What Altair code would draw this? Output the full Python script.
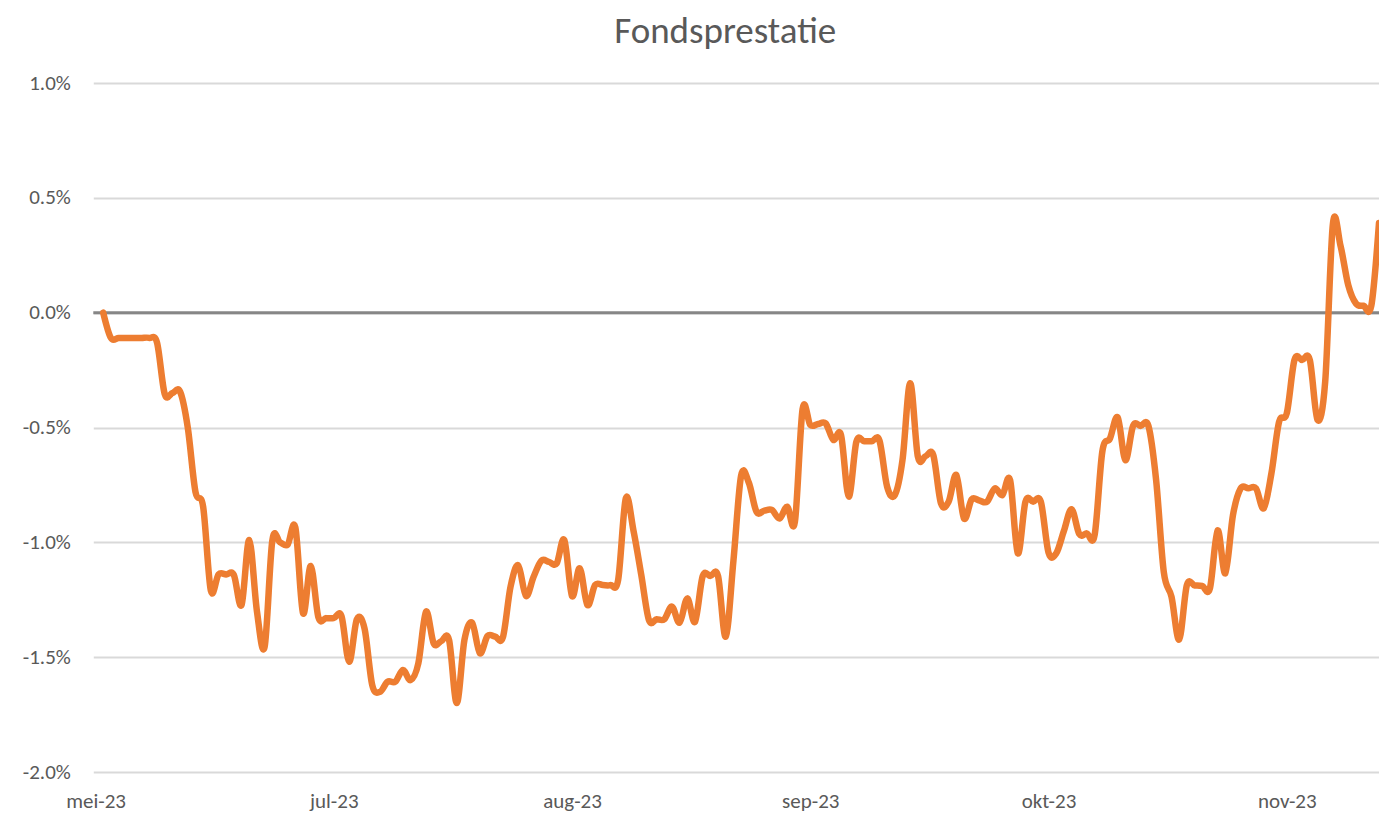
import json
import altair as alt
import pandas as pd

# ---- data (daily values, % return) ----
start_date = "2023-06-01"
rendement = [
    0.00, -0.11, -0.11, -0.11, -0.11, -0.11, -0.11, -0.13, -0.354, -0.35,
    -0.344, -0.50, -0.78, -0.845, -1.21, -1.14, -1.14, -1.142, -1.273, -0.99,
    -1.30, -1.455, -0.993, -1.00, -1.01, -0.935, -1.309, -1.103, -1.327, -1.33,
    -1.33, -1.321, -1.52, -1.335, -1.375, -1.621, -1.651, -1.607, -1.607, -1.556,
    -1.60, -1.527, -1.302, -1.44, -1.43, -1.425, -1.70, -1.425, -1.35, -1.483,
    -1.408, -1.41, -1.414, -1.193, -1.10, -1.233, -1.15, -1.08, -1.085, -1.092,
    -0.99, -1.234, -1.113, -1.273, -1.186, -1.186, -1.186, -1.164, -0.808, -0.95,
    -1.14, -1.338, -1.335, -1.335, -1.28, -1.35, -1.244, -1.346, -1.147, -1.147,
    -1.147, -1.411, -1.08, -0.71, -0.74, -0.867, -0.862, -0.859, -0.896, -0.845,
    -0.91, -0.42, -0.489, -0.485, -0.482, -0.554, -0.533, -0.801, -0.562, -0.56,
    -0.56, -0.557, -0.758, -0.794, -0.641, -0.307, -0.627, -0.625, -0.62, -0.83,
    -0.823, -0.707, -0.896, -0.813, -0.818, -0.823, -0.765, -0.794, -0.729, -1.048,
    -0.823, -0.823, -0.823, -1.045, -1.048, -0.95, -0.856, -0.964, -0.961, -0.968,
    -0.605, -0.547, -0.456, -0.642, -0.493, -0.493, -0.493, -0.729, -1.13, -1.237,
    -1.423, -1.186, -1.188, -1.19, -1.2, -0.948, -1.135, -0.881, -0.765, -0.765,
    -0.765, -0.852, -0.70, -0.475, -0.438, -0.206, -0.206, -0.206, -0.467, -0.30,
    0.386, 0.29, 0.12, 0.04, 0.03, 0.03, 0.39,
]
datums = pd.date_range(start_date, periods=len(rendement), freq="D").strftime("%Y-%m-%d").tolist()

x_labels = ["mei-23", "jul-23", "aug-23", "sep-23", "okt-23", "nov-23"]
x_label_dates = ["2023-05-31", "2023-07-01", "2023-08-01", "2023-09-01", "2023-10-02", "2023-11-02"]
x_domain_dates = ["2023-05-30T17:00:00", "2023-11-14T00:00:00"]
y_ticks = [-2.0, -1.5, -1.0, -0.5, 0.0, 0.5, 1.0]
y_domain = [-2.0, 1.0]
zero_line = [0.0]


def ms(s):
    return int(pd.Timestamp(s, tz="UTC").value // 10**6)


tick_ms = [ms(d) for d in x_label_dates]
domain_ms = [ms(d) for d in x_domain_dates]

df = pd.DataFrame({"datum": datums, "rendement": rendement})
df_zero = pd.DataFrame({"rendement": zero_line})

FONT = "Calibri, Carlito, Lato, sans-serif"
TEXT = "#595959"
ORANGE = "#ED7D31"

x_label_expr = f"{json.dumps(x_labels)}[indexof({json.dumps(tick_ms)}, time(datum.value))]"

x_enc = alt.X(
    "datum:T",
    scale=alt.Scale(type="utc", domain=domain_ms),
    axis=alt.Axis(
        values=tick_ms,
        labelExpr=x_label_expr,
        title=None,
        grid=False,
        domain=False,
        ticks=False,
        labelPadding=18,
        labelFont=FONT,
        labelFontSize=21,
        labelColor=TEXT,
        labelAlign="center",
    ),
)

y_axis = alt.Axis(
    values=y_ticks,
    labelExpr="replace(format(datum.value, '.1f'), '\u2212', '-') + '%'",
    title=None,
    grid=True,
    gridColor="#D9D9D9",
    gridWidth=2,
    domain=False,
    ticks=False,
    labelPadding=23,
    labelFont=FONT,
    labelFontSize=21,
    labelColor=TEXT,
)

y_enc = alt.Y(
    "rendement:Q",
    scale=alt.Scale(domain=y_domain, nice=False, zero=False),
    axis=y_axis,
)

zero = alt.Chart(df_zero).mark_rule(color="#868686", strokeWidth=3).encode(
    y=alt.Y("rendement:Q", scale=alt.Scale(domain=y_domain, nice=False, zero=False), axis=y_axis)
)

line = alt.Chart(df).mark_line(
    color=ORANGE, strokeWidth=6.5, interpolate="cardinal", clip=True,
    strokeCap="round", strokeJoin="round",
).encode(x=x_enc, y=y_enc)

chart = (
    alt.layer(zero, line)
    .properties(
        width=1285.7,
        height=689,
        autosize=alt.AutoSizeParams(type="none"),
        padding={"left": 85.3, "top": 75, "right": 0, "bottom": 44},
        title=alt.TitleParams(
            "Fondsprestatie",
            font=FONT,
            fontSize=37,
            fontWeight="normal",
            color=TEXT,
            anchor="middle",
            frame="group",
            dx=-11,
            offset=21,
        ),
    )
    .configure_view(stroke=None)
)

chart.save("out.html", embed_options={"renderer": "svg", "actions": False})
